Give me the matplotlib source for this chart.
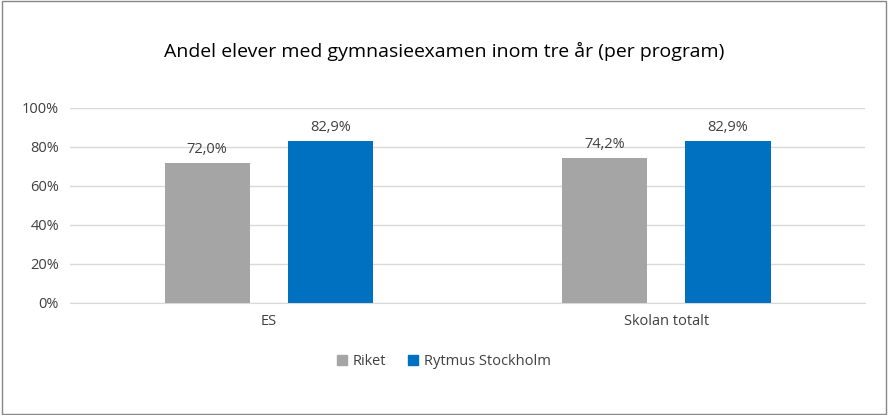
import matplotlib
matplotlib.use("Agg")
import matplotlib.pyplot as plt
from matplotlib.patches import Rectangle

categories = ["ES", "Skolan totalt"]
series_names = ["Riket", "Rytmus Stockholm"]
riket = [72.0, 74.2]
rytmus = [82.9, 82.9]
yticks = [0, 20, 40, 60, 80, 100]

plt.rcParams["font.family"] = "Open Sans"
fig = plt.figure(figsize=(8.88, 4.15), dpi=100)
fig.patches.append(Rectangle((0.002, 0.003), 0.996, 0.994, transform=fig.transFigure,
                             fill=False, edgecolor="#878787", lw=1))
ax = fig.add_axes([0.079, 0.27, 0.895, 0.47])
x = list(range(len(categories)))
w = 0.215
off = 0.155
colors = ["#A5A5A5", "#0070C0"]
for vals, o, c in [(riket, -off, colors[0]), (rytmus, off, colors[1])]:
    pos = [i + o for i in x]
    ax.bar(pos, vals, width=w, color=c, zorder=3)
    for p, v in zip(pos, vals):
        ax.text(p, v + 3, f"{v:.1f}".replace(".", ",") + "%", ha="center", va="bottom",
                fontsize=10.5, color="#404040")
ax.set_xlim(-0.5, 1.5)
ax.set_ylim(0, 100)
ax.set_yticks(yticks)
ax.set_yticklabels([f"{t}%" for t in yticks], fontsize=10.5, color="#404040")
ax.set_xticks(x)
ax.set_xticklabels(categories, fontsize=10.5, color="#404040")
ax.tick_params(length=0, pad=8)
ax.grid(axis="y", color="#D9D9D9", lw=1, zorder=0)
for s in ["top", "right", "left"]:
    ax.spines[s].set_visible(False)
ax.spines["bottom"].set_color("#D9D9D9")
fig.text(0.5, 0.875, "Andel elever med gymnasieexamen inom tre år (per program)",
         ha="center", va="center", fontsize=14, color="black")
handles = [Rectangle((0, 0), 1, 1, color=c) for c in colors]
fig.legend(handles, series_names, loc="center", bbox_to_anchor=(0.5, 0.128), ncol=2,
           frameon=False, fontsize=10.5, handlelength=0.7, handleheight=0.7,
           columnspacing=1.5, handletextpad=0.4, labelcolor="#404040")
fig.savefig("out.png", dpi=100)
